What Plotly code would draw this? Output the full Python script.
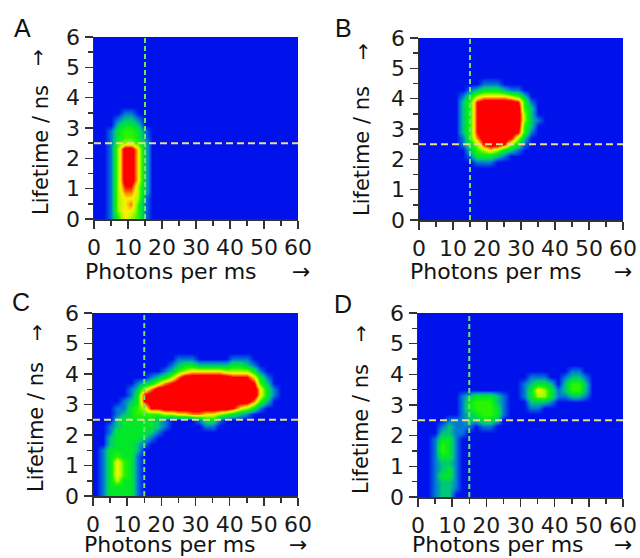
import plotly.graph_objects as go

W, H = 640, 558

# Photon-rate bin centres (photons per ms) and lifetime bin centres (ns)
PHOTON_BINS = [1 + 2 * i for i in range(30)]
LIFETIME_BINS = [round(0.1 + 0.2 * i, 2) for i in range(30)]

X_TICKS = [0, 10, 20, 30, 40, 50, 60]
Y_TICKS = [0, 1, 2, 3, 4, 5, 6]
PHOTON_THRESHOLD = 15
LIFETIME_THRESHOLD = 2.5

PANEL_LABELS = ["A", "B", "C", "D"]

# Burst-count levels (0..9); rows go from 5.9 ns (top) to 0.1 ns (bottom),
# each row is 30 photon bins (groups of 5 bins = 10 photons/ms), '.' = 0.
A_ROWS = [""] * 12 + [
    "....1 1....",
    "...12 21...",
    "...23 32...",
    "..134 431..",
    "..134 431..",
    "..145 542..",
    "..159 962..",
    "..159 962..",
    "..159 962..",
    "..159 962..",
    "..159 962..",
    "..159 962..",
    "..158 852..",
    "..157 752..",
    "..156 651..",
    "..156 741..",
    "..156 641..",
    "..146 541..",
]

B_ROWS = [""] * 7 + [
    "..... ....1 11...",
    "..... ..123 33211",
    "..... .1356 66654 2....",
    "..... .2489 99998 41...",
    "..... .2489 99999 42...",
    "..... .2489 99999 52...",
    "..... .2489 99999 521..",
    "..... .2489 99999 42...",
    "..... .2489 99998 41...",
    "..... .1479 99985 2....",
    "..... .1358 99853 1....",
    "..... ..245 65321",
    "..... ..133 321..",
    "..... ...11 1....",
] + [""] * 9

C_ROWS = [""] * 7 + [
    "..... ..... ..111 ..... 111..",
    "..... ..... .1233 22222 3321.",
    "..... ..... 12456 66665 55531",
    "..... ...12 35799 99999 88863 1....",
    "..... .1235 78999 99999 99984 2....",
    "..... 12579 99999 99999 99996 31...",
    "..... 13899 99999 99999 99996 31...",
    "....1 23899 99999 99999 99974 2....",
    "...11 34588 99999 99999 86531",
    "...12 34444 55667 76654 321..",
    "...23 33332 1.... 1331.",
    "..123 33332 1.... .11..",
    "..133 33321",
    "..233 3321.",
    "..233 321..",
    ".1333 32...",
    ".1343 31...",
    ".1364 31...",
    ".1364 31...",
    ".1364 31...",
    ".1353 31...",
    ".1333 31...",
    ".1333 31...",
]

D_ROWS = [""] * 9 + [
    "..... ..... ..... ..... ..11.",
    "..... ..... ..... .111. .1221",
    "..... ..... ..... 12332 .2442",
    "..... ..... ..... 13653 12442",
    "..... .1233 321.. 13553 11221",
    "..... .1344 421.. .2221",
    "..... .1344 431.. .11..",
    "..... .1234 431..",
    "....1 11223 32...",
    "...12 111.1 1....",
    "...22 11...",
    "..133 1....",
    "..143 1....",
    "..143 1....",
    "..133 1....",
    "..122 1....",
    "..123 1....",
    "..133 1....",
    "..122 1....",
    "..122 1....",
    "..122.....",
]

PANEL_ROWS = [A_ROWS, B_ROWS, C_ROWS, D_ROWS]


def to_grid(rows):
    grid = []
    for r in rows:
        s = r.replace(" ", "").ljust(30, ".")
        grid.append([0 if c == "." else int(c) for c in s])
    return grid[::-1]  # bottom row first (0.1 ns)


COLORSCALE = [
    [0.0, "rgb(0,18,235)"],
    [0.111, "rgb(0,120,215)"],
    [0.222, "rgb(0,200,120)"],
    [0.333, "rgb(0,232,40)"],
    [0.444, "rgb(40,245,0)"],
    [0.556, "rgb(170,250,0)"],
    [0.667, "rgb(255,238,0)"],
    [0.778, "rgb(255,120,0)"],
    [0.889, "rgb(255,0,0)"],
    [1.0, "rgb(255,0,0)"],
]

# pixel boxes in the window (left, right, top, bottom)
BOXES = [(94, 298, 37, 219), (419, 623, 38, 220), (93, 298, 313, 496), (418, 623, 313, 497)]


def fx(px):
    return px / W


def fy(py):
    return 1 - py / H


fig = go.Figure()
layout = dict(
    width=W, height=H, margin=dict(l=0, r=0, t=0, b=0, autoexpand=False),
    paper_bgcolor="white", plot_bgcolor="rgb(0,18,235)", showlegend=False,
)
tickfont = dict(family="DejaVu Sans", size=22, color="#1a1a1a")
shapes = []
annotations = []

for i, (rows, box) in enumerate(zip(PANEL_ROWS, BOXES)):
    n = "" if i == 0 else str(i + 1)
    l, r, t, b = box
    fig.add_trace(go.Heatmap(
        x=PHOTON_BINS, y=LIFETIME_BINS, z=to_grid(rows),
        zmin=0, zmax=9, colorscale=COLORSCALE, zsmooth="best", showscale=False,
        xaxis="x" + n, yaxis="y" + n, hoverinfo="skip",
    ))
    layout["xaxis" + n] = dict(
        domain=[fx(l), fx(r)], anchor="y" + n, range=[0, 60],
        tickvals=X_TICKS, ticks="outside", ticklen=8, tickwidth=1.5, tickcolor="#333",
        minor=dict(dtick=5, tick0=0, ticks="outside", ticklen=5, tickwidth=1.5, tickcolor="#333"),
        showline=True, linecolor="#333", linewidth=1.5, showgrid=False, zeroline=False,
        tickfont=tickfont, fixedrange=True, automargin=False,
    )
    layout["yaxis" + n] = dict(
        domain=[fy(b), fy(t)], anchor="x" + n, range=[0, 6],
        tickvals=Y_TICKS, ticks="outside", ticklen=8, tickwidth=1.5, tickcolor="#333",
        minor=dict(dtick=0.5, tick0=0, ticks="outside", ticklen=5, tickwidth=1.5, tickcolor="#333"),
        showline=True, linecolor="#333", linewidth=1.5, showgrid=False, zeroline=False,
        tickfont=tickfont, fixedrange=True, automargin=False,
    )
    shapes.append(dict(type="line", xref="x" + n, yref="y" + n,
                       x0=PHOTON_THRESHOLD, x1=PHOTON_THRESHOLD, y0=0, y1=6,
                       line=dict(color="rgb(110,225,110)", width=2, dash="5px,3px")))
    shapes.append(dict(type="line", xref="x" + n, yref="y" + n,
                       x0=0, x1=60, y0=LIFETIME_THRESHOLD, y1=LIFETIME_THRESHOLD,
                       line=dict(color="rgb(232,222,140)", width=2, dash="7px,4px")))


def ann(text, px, py, size, family="DejaVu Sans", angle=0):
    annotations.append(dict(text=text, x=fx(px), y=fy(py), xref="paper", yref="paper",
                            xanchor="center", yanchor="middle", showarrow=False, textangle=angle,
                            font=dict(family=family, size=size, color="#111")))


LETTER_POS = [(22, 28), (343, 28), (21, 302), (343, 304)]
XTITLE_POS = [(171, 271), (496, 271), (170, 544), (498, 544)]
XARROW_POS = [(301, 271), (623, 271), (298, 544), (623, 544)]
YTITLE_POS = [(41, 150), (362, 151), (36, 427), (361, 429)]
YARROW_POS = [(38, 58), (363, 52), (37, 333), (361, 334)]

for i in range(4):
    ann(PANEL_LABELS[i], *LETTER_POS[i], 25, family="Liberation Sans")
    ann("Photons per ms", *XTITLE_POS[i], 22)
    ann("→", *XARROW_POS[i], 22)
    ann("Lifetime / ns", *YTITLE_POS[i], 21, angle=-90)
    ann("↑", *YARROW_POS[i], 20)

layout["shapes"] = shapes
layout["annotations"] = annotations
fig.update_layout(**layout)
fig.write_html(
    "out.html",
    config={"displayModeBar": False, "staticPlot": True},
    post_script="document.body.style.margin='0';document.body.style.overflow='hidden';",
)
